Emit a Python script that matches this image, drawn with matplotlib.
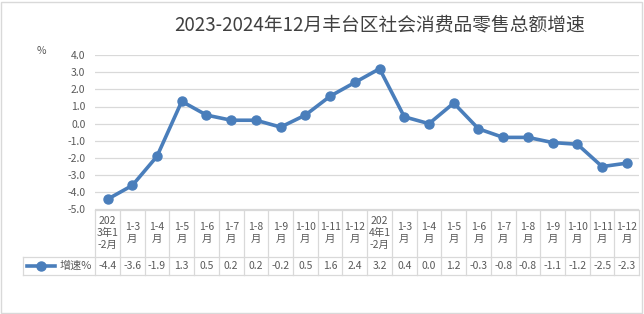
import matplotlib
matplotlib.use("Agg")
import matplotlib.pyplot as plt
from matplotlib.patches import Rectangle
from matplotlib.lines import Line2D

plt.rcParams["font.family"] = ["Noto Sans CJK SC", "DejaVu Sans"]

# data
categories = ["202\n3年1\n-2月", "1-3\n月", "1-4\n月", "1-5\n月", "1-6\n月", "1-7\n月",
              "1-8\n月", "1-9\n月", "1-10\n月", "1-11\n月", "1-12\n月",
              "202\n4年1\n-2月", "1-3\n月", "1-4\n月", "1-5\n月", "1-6\n月", "1-7\n月",
              "1-8\n月", "1-9\n月", "1-10\n月", "1-11\n月", "1-12\n月"]
growth = [-4.4, -3.6, -1.9, 1.3, 0.5, 0.2, 0.2, -0.2, 0.5, 1.6, 2.4,
          3.2, 0.4, 0.0, 1.2, -0.3, -0.8, -0.8, -1.1, -1.2, -2.5, -2.3]
series_name = "增速%"
title = "2023-2024年12月丰台区社会消费品零售总额增速"
yticks = [-5, -4, -3, -2, -1, 0, 1, 2, 3, 4]

W, H = 644, 314
LINE = "#4A7EBB"
TXT = "#595959"
GRID = "#D9D9D9"
n = len(categories)


def px(x0, y0, x1, y1):
    return [x0 / W, 1 - y1 / H, (x1 - x0) / W, (y1 - y0) / H]


fig = plt.figure(figsize=(W / 100, H / 100), dpi=100)
fig.patches.append(Rectangle((1 / W, 1 / H), (W - 3) / W, (H - 3) / H, transform=fig.transFigure,
                             fill=False, edgecolor=GRID, linewidth=1))

ax = fig.add_axes(px(95.2, 55, 639.2, 209.5))
xs = list(range(n))
ax.plot(xs, growth, color=LINE, linewidth=2.6, marker="o", markersize=6.5, zorder=3)
ax.set_xlim(-0.5, n - 0.5)
ax.set_ylim(-5, 4)
ax.set_yticks(yticks)
ax.set_yticklabels([f"{v:.1f}" for v in yticks], fontsize=7.5, color=TXT)
ax.tick_params(axis="y", length=0, pad=7)
ax.set_xticks([])
for v in yticks:
    ax.axhline(v, color=GRID, linewidth=0.9, zorder=1)
for s in ax.spines.values():
    s.set_visible(False)
ax.text(-0.09, 1.025, "%", transform=ax.transAxes, fontsize=7.5, color=TXT, ha="right", va="center")

fig.text(380 / W, 1 - 25 / H, title, fontsize=13.5, color="#404040", ha="center", va="center")

# data table below the plot
tx0, tx1, ty0, ty1 = 23, 639.2, 209.5, 275
unit = (639.2 - 95.2) / n
tab = fig.add_axes(px(tx0, ty0, tx1, ty1))
left = -0.5 - (95.2 - tx0) / unit
tab.set_xlim(left, n - 0.5)
tab.set_ylim(ty1 - ty0, 0)
tab.axis("off")
hdr = 47.5
rows_end = ty1 - ty0
kw = dict(color=GRID, linewidth=0.9, clip_on=False)
tab.plot([-0.5, n - 0.5], [0, 0], **kw)
tab.plot([left, n - 0.5], [hdr, hdr], **kw)
tab.plot([left, n - 0.5], [rows_end, rows_end], **kw)
tab.plot([left, left], [hdr, rows_end], **kw)
for i in range(n + 1):
    tab.plot([i - 0.5, i - 0.5], [0, rows_end], **kw)
for i, (c, v) in enumerate(zip(categories, growth)):
    tab.text(i, hdr / 2, c, ha="center", va="center", fontsize=7.5, color=TXT, linespacing=1.25)
    tab.text(i, (hdr + rows_end) / 2, f"{v:.1f}", ha="center", va="center", fontsize=7.5, color=TXT)
ly = (hdr + rows_end) / 2
l0 = left + 4 / unit
l1 = left + 32 / unit
tab.add_line(Line2D([l0, l1], [ly, ly], color=LINE, linewidth=2.6, clip_on=False))
tab.plot([(l0 + l1) / 2], [ly], marker="o", markersize=6.5, color=LINE, clip_on=False)
tab.text(-0.5 - 3 / unit, ly, series_name, ha="right", va="center", fontsize=8, color=TXT)

fig.savefig("out.png", dpi=100, facecolor="white")
